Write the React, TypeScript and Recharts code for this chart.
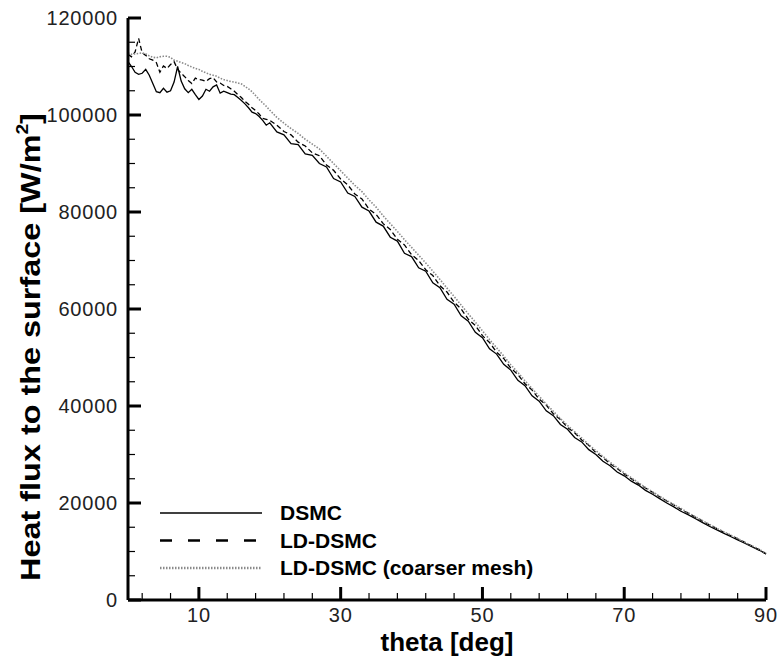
import { LineChart, Line, XAxis, YAxis, Legend } from "recharts";

// polar angle [deg]
const theta = [
  0, 0.5, 1, 1.5, 2, 2.5, 3, 3.5, 4, 4.5, 5, 5.5, 6, 6.5, 7, 7.5, 8, 8.5, 9, 9.5,
  10, 10.5, 11, 11.5, 12, 12.5, 13, 13.5, 14, 14.5, 15, 15.5, 16, 16.5, 17, 17.5,
  18, 18.5, 19, 19.5, 20,
  21, 22, 23, 24, 25, 26, 27, 28, 29, 30, 31, 32, 33, 34, 35, 36, 37, 38, 39, 40,
  41, 42, 43, 44, 45, 46, 47, 48, 49, 50, 51, 52, 53, 54, 55, 56, 57, 58, 59, 60,
  61, 62, 63, 64, 65, 66, 67, 68, 69, 70, 71, 72, 73, 74, 75, 76, 77, 78, 79, 80,
  81, 82, 83, 84, 85, 86, 87, 88, 89, 90,
];

// heat flux [W/m^2]
const dsmc = [
  111000, 110000, 108800, 108400, 108600, 109400, 108200, 106500, 104800, 104600,
  105500, 104700, 105000, 106800, 110000, 107000, 105400, 104600, 105300, 104200,
  103200, 103900, 105300, 104900, 105800, 106200, 104500, 104900, 104600, 104300,
  104200, 103600, 103000, 102300, 101500, 100600, 100300, 99700, 98900, 97900,
  98400,
  96500, 95900, 94100, 93900, 92000, 91700, 90000, 89300, 86900, 86200,
  83900, 83200, 81000, 80200, 77900, 77100, 74800, 74000, 71500, 70800,
  68500, 67800, 65400, 64400, 62000, 61000, 58600, 57500, 55200, 54100,
  51800, 50700, 48600, 47400, 45300, 44200, 42100, 41000, 39000, 38000,
  36200, 35200, 33500, 32600, 31000, 30000, 28600, 27700, 26400, 25600,
  24500, 23700, 22600, 21800, 20900, 20000, 19200, 18300, 17600, 16800,
  16000, 15200, 14500, 13800, 13100, 12400, 11700, 11000, 10300, 9500,
];

const ldDsmc = [
  112500, 112000, 113000, 115800, 112800, 112300, 111600, 111300, 110800, 108800,
  110100, 109600, 110400, 111000, 109400, 108600, 107900, 107100, 106500, 107600,
  107300, 107200, 106900, 107500, 107700, 106800, 106600, 106100, 105900, 105400,
  104900, 104200, 103600, 102800, 102200, 101500, 100900, 100200, 99300, 99100,
  98900,
  97900, 96600, 95900, 94400, 93600, 92200, 91600, 89700, 88600, 86800,
  85600, 83700, 82700, 80600, 79500, 77600, 76400, 74400, 73200, 71200,
  70000, 68100, 66900, 64800, 63500, 61400, 60000, 57900, 56600, 54500,
  53100, 51100, 49800, 47800, 46500, 44600, 43300, 41400, 40200, 38400,
  37200, 35600, 34500, 33000, 31900, 30400, 29400, 28100, 27100, 26000,
  25000, 24000, 23100, 22200, 21300, 20400, 19600, 18700, 17900, 17100,
  16300, 15500, 14800, 14000, 13300, 12600, 11900, 11100, 10400, 9500,
];

const ldCoarse = [
  112800, 112500, 112600, 112700, 112800, 112600, 112200, 111900, 111800, 112000,
  112100, 112100, 111900, 111300, 111100, 110800, 110600, 110200, 109900, 109600,
  109400, 109000, 108700, 108400, 108200, 108000, 107600, 107300, 107100, 106900,
  106800, 106600, 106400, 105900, 105400, 104800, 104000, 103200, 102500, 101800,
  101000,
  99500, 98300, 97200, 96200, 95000, 94000, 93000, 91500, 90000, 88500,
  87000, 85500, 84200, 82500, 81000, 79200, 77600, 76000, 74300, 72700,
  71100, 69500, 67800, 66100, 64300, 62600, 60800, 59000, 57300, 55500,
  53700, 52000, 50300, 48500, 46900, 45200, 43600, 42000, 40400, 38900,
  37400, 36000, 34700, 33400, 32000, 30800, 29600, 28400, 27300, 26200,
  25200, 24200, 23200, 22300, 21400, 20500, 19700, 18900, 18000, 17200,
  16400, 15600, 14800, 14100, 13400, 12700, 11900, 11200, 10500, 9600,
];

const xTicks = [2, 6, 10, 14, 18, 22, 26, 30, 34, 38, 42, 46, 50, 54, 58, 62, 66, 70, 74, 78, 82, 86, 90];
const xMajor = [10, 30, 50, 70, 90];
const yTicks = [
  0, 5000, 10000, 15000, 20000, 25000, 30000, 35000, 40000, 45000, 50000, 55000, 60000,
  65000, 70000, 75000, 80000, 85000, 90000, 95000, 100000, 105000, 110000, 115000, 120000,
];
const yMajor = [0, 20000, 40000, 60000, 80000, 100000, 120000];

const data = theta.map((t, i) => ({
  theta: t,
  dsmc: dsmc[i],
  ld: ldDsmc[i],
  coarse: ldCoarse[i],
}));

const FONT = "'Liberation Sans', Arial, sans-serif";

const series = [
  { key: "dsmc", name: "DSMC", stroke: "#000", width: 1.3, dash: undefined, legendDash: undefined, legendWidth: 1.5 },
  { key: "ld", name: "LD-DSMC", stroke: "#000", width: 1.3, dash: "5 3", legendDash: "12 16", legendWidth: 2.5 },
  { key: "coarse", name: "LD-DSMC (coarser mesh)", stroke: "#8a8a8a", width: 1.6, dash: "1.5 1.5", legendDash: "1.5 1.5", legendWidth: 2.5 },
];

const XTick = (props: any) => {
  const { x, y, payload } = props;
  const major = xMajor.includes(payload.value);
  return (
    <g>
      <line x1={x} x2={x} y1={y} y2={y - (major ? 13 : 7)} stroke="#000" strokeWidth={major ? 3 : 1.2} />
      {major && (
        <text x={x} y={y + 22} textAnchor="middle" fontFamily={FONT} fontSize={20} letterSpacing={0.8} fill="#222">
          {payload.value}
        </text>
      )}
    </g>
  );
};

const YTick = (props: any) => {
  const { x, y, payload } = props;
  const major = yMajor.includes(payload.value);
  return (
    <g>
      <line x1={x} x2={x + (major ? 13 : 7)} y1={y} y2={y} stroke="#000" strokeWidth={major ? 3 : 1.2} />
      {major && (
        <text x={x - 10} y={y + 7} textAnchor="end" fontFamily={FONT} fontSize={20} letterSpacing={0.8} fill="#222">
          {payload.value}
        </text>
      )}
    </g>
  );
};

const renderXTitle = (props: any) => {
  const { viewBox } = props;
  const cx = viewBox.x + viewBox.width / 2;
  return (
    <text x={cx} y={651} textAnchor="middle" fontFamily={FONT} fontSize={26} fontWeight="bold" fill="#000">
      theta [deg]
    </text>
  );
};

const renderYTitle = () => (
  <g transform="translate(40,347) rotate(-90) scale(1.2,1)">
    <text x={0} y={0} textAnchor="middle" fontFamily={FONT} fontSize={27} fontWeight="bold" fill="#000">
      Heat flux to the surface [W/m
      <tspan fontSize={16} dy={-12}>2</tspan>
      <tspan dy={12}>]</tspan>
    </text>
  </g>
);

const renderLegend = () => (
  <svg width={400} height={90}>
    {series.map((s, i) => {
      const cy = 13 + i * 27.5;
      return (
        <g key={s.key}>
          <line x1={10} x2={112} y1={cy} y2={cy} stroke={s.stroke} strokeWidth={s.legendWidth} strokeDasharray={s.legendDash} />
          <text x={130} y={cy + 7} fontFamily={FONT} fontSize={21} fontWeight="bold" fill="#000">
            {s.name}
          </text>
        </g>
      );
    })}
  </svg>
);

export default function App() {
  return (
    <div style={{ position: "absolute", left: 0, top: 0, width: 780, height: 660, background: "#fff" }}>
      <LineChart width={780} height={660} data={data} margin={{ top: 18, right: 14, bottom: 0, left: 0 }}>
        <XAxis
          dataKey="theta"
          type="number"
          domain={[0, 90]}
          ticks={xTicks}
          interval={0}
          height={60}
          tickSize={0}
          tickMargin={0}
          tickLine={false}
          axisLine={{ stroke: "#000", strokeWidth: 3 }}
          tick={<XTick />}
          label={{ content: renderXTitle }}
        />
        <YAxis
          type="number"
          domain={[0, 120000]}
          ticks={yTicks}
          interval={0}
          width={128}
          tickSize={0}
          tickMargin={0}
          tickLine={false}
          axisLine={{ stroke: "#000", strokeWidth: 3 }}
          tick={<YTick />}
          label={{ content: renderYTitle }}
        />
        <Legend
          layout="horizontal"
          verticalAlign="middle"
          align="center"
          content={renderLegend}
          wrapperStyle={{ position: "absolute", left: 150, top: 500, width: 400, height: 90 }}
        />
        {series.map((s) => (
          <Line
            key={s.key}
            type="linear"
            dataKey={s.key}
            name={s.name}
            stroke={s.stroke}
            strokeWidth={s.width}
            strokeDasharray={s.dash}
            dot={false}
            isAnimationActive={false}
          />
        ))}
      </LineChart>
    </div>
  );
}
